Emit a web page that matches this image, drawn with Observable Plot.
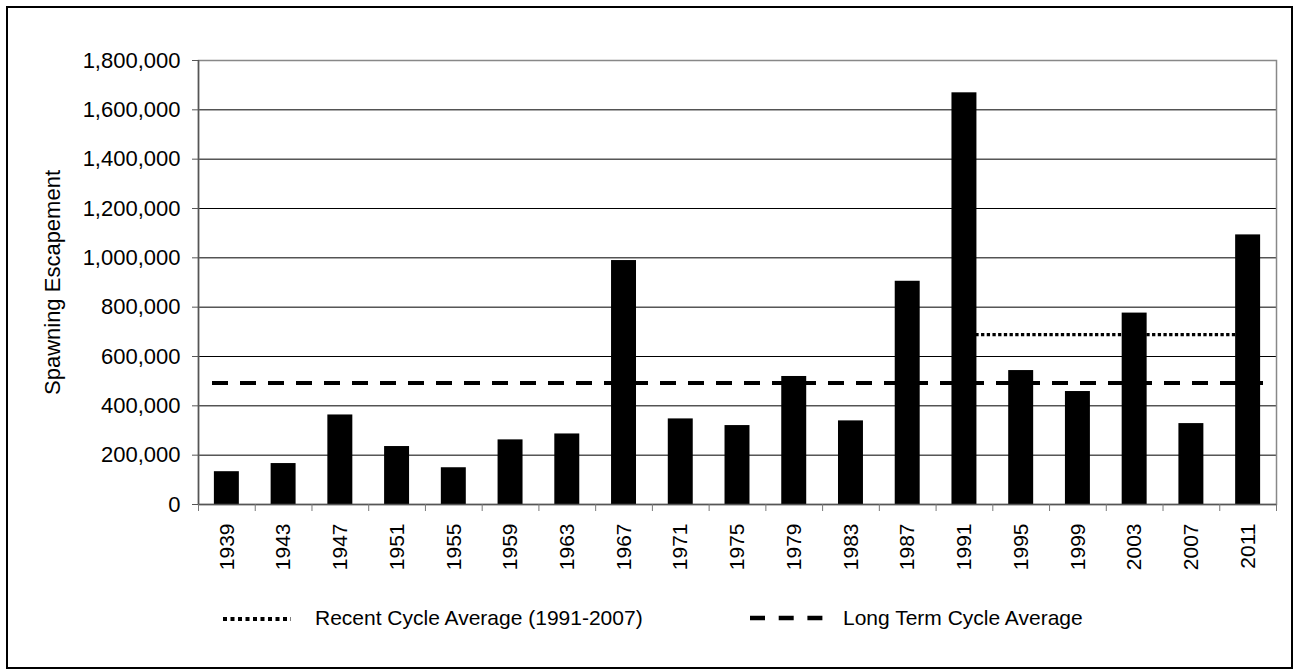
<!DOCTYPE html>
<html><head><meta charset="utf-8">
<script src="https://cdn.jsdelivr.net/npm/d3@7"></script>
<script src="https://cdn.jsdelivr.net/npm/@observablehq/plot@0.6"></script>
<style>
body{margin:0;background:#fff;}
#wrap{position:relative;width:1296px;height:669px;overflow:hidden;font-family:"Liberation Sans",Arial,sans-serif;background:#fff;}
#frame{position:absolute;left:6px;top:6px;width:1287px;height:663px;box-sizing:border-box;border:2px solid #000;pointer-events:none;}
#chart svg{display:block;}
#legend{display:block;}
</style></head><body>
<div id="wrap"><div id="chart"></div>
<svg id="legend" width="1296" height="89" font-family="Liberation Sans, Arial, sans-serif" font-size="21">
  <line x1="223" y1="39" x2="291" y2="39" stroke="#000" stroke-width="4" stroke-dasharray="4,3.5"></line>
  <text id="lg1" x="315" y="45" fill="#000"></text>
  <line x1="750" y1="38" x2="824" y2="38" stroke="#000" stroke-width="4.5" stroke-dasharray="15,13.7"></line>
  <text id="lg2" x="843" y="45" fill="#000"></text>
</svg>
<div id="frame"></div></div>
<script>
const years = [1939,1943,1947,1951,1955,1959,1963,1967,1971,1975,1979,1983,1987,1991,1995,1999,2003,2007,2011];
const escapement = [133000,166000,363000,235000,149000,262000,286000,989000,347000,320000,519000,339000,905000,1669000,543000,458000,776000,328000,1093000];
const recentAverage = 689000;
const recentSpan = [1991, 2011];
const longTermAverage = 493000;
const yTicks = [0,200000,400000,600000,800000,1000000,1200000,1400000,1600000,1800000];
const yLabel = "Spawning Escapement";
const legendLabels = ["Recent Cycle Average (1991-2007)", "Long Term Cycle Average"];

document.getElementById("lg1").textContent = legendLabels[0];
document.getElementById("lg2").textContent = legendLabels[1];

const data = years.map((year, i) => ({year, value: escapement[i]}));
const step = years[1] - years[0];
const xDomain = [years[0] - step / 2, years[years.length - 1] + step / 2];
const boundaries = years.map(y => y - step / 2).concat([xDomain[1]]);
const half = 0.44 * step / 2;
const gridTicks = yTicks.filter(v => v > yTicks[0] && v < yTicks[yTicks.length - 1]);

const plot = Plot.plot({
  width: 1296, height: 580,
  marginTop: 60, marginBottom: 76, marginLeft: 198, marginRight: 20,
  style: {fontFamily: "Liberation Sans, Arial, sans-serif", fontSize: "22px", color: "#000", background: "#fff", overflow: "visible"},
  x: {domain: xDomain},
  y: {domain: [yTicks[0], yTicks[yTicks.length - 1]]},
  marks: [
    Plot.ruleY(gridTicks, {stroke: "#000", strokeWidth: 1}),
    Plot.frame({stroke: "#888", strokeWidth: 1.5}),
    Plot.ruleY([recentAverage], {x1: recentSpan[0], x2: recentSpan[1], stroke: "#000", strokeWidth: 3.3, strokeDasharray: "3.3,2.4"}),
    Plot.ruleY([longTermAverage], {x1: xDomain[0], x2: xDomain[1], insetLeft: 14, insetRight: 13, stroke: "#000", strokeWidth: 4, strokeDasharray: "16,12"}),
    Plot.rectY(data, {x1: d => d.year - half, x2: d => d.year + half, y: "value", fill: "#000"}),
    Plot.ruleY([0], {stroke: "#555", strokeWidth: 1.5}),
    Plot.ruleX([xDomain[0]], {stroke: "#555", strokeWidth: 1.5}),
    Plot.axisY({ticks: yTicks, tickFormat: d3.format(","), tickSize: 6, tickPadding: 12, fontSize: 22, label: null, stroke: "#555"}),
    Plot.axisX({ticks: boundaries, tickSize: 7, tickFormat: () => "", label: null, stroke: "#777"}),
    Plot.axisX({ticks: years, tickSize: 0, tickPadding: 19, tickRotate: -90, tickFormat: d => String(d), label: null, fontSize: 21}),
    Plot.text([yLabel], {frameAnchor: "left", dx: -146, rotate: -90, textAnchor: "middle", fontSize: 22, fill: "#000"})
  ]
});
document.getElementById("chart").appendChild(plot);
</script>
</body></html>
